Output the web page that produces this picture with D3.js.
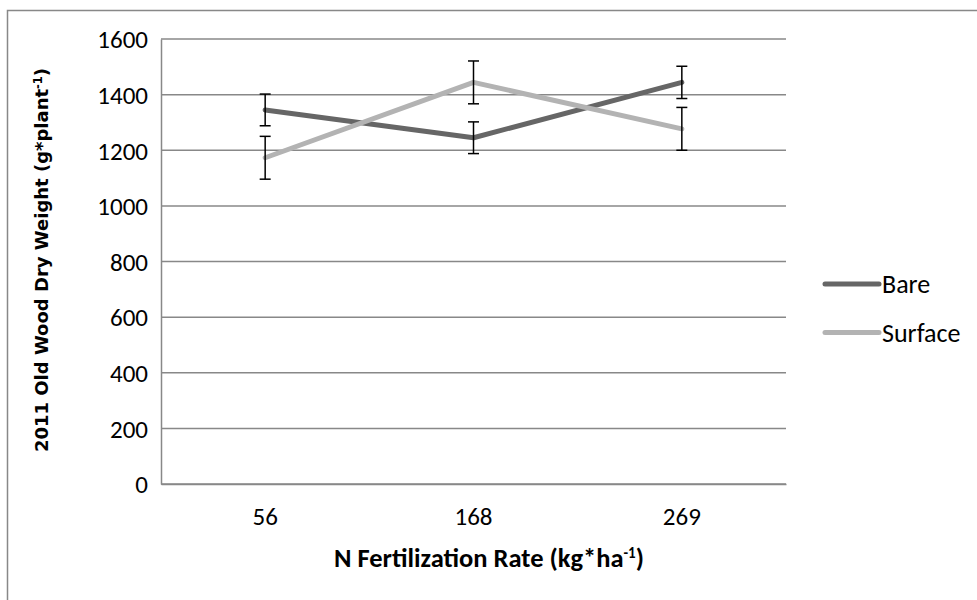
<!DOCTYPE html>
<html>
<head>
<meta charset="utf-8">
<script src="https://cdn.jsdelivr.net/npm/d3@7"></script>
<style>
  body { margin: 0; background: #fff; }
  text { font-family: Carlito, "Liberation Sans Narrow", "Open Sans", sans-serif; fill: #000; }
</style>
</head>
<body>
<div id="chart"></div>
<script>
// data
const rates = ["56", "168", "269"];
const seriesNames = ["Bare", "Surface"];
const bareValues = [1345, 1245, 1444];
const bareErrors = [57, 57, 58];
const surfaceValues = [1173, 1444, 1277];
const surfaceErrors = [77, 77, 77];
const yTicks = [0, 200, 400, 600, 800, 1000, 1200, 1400, 1600];
const colors = ["#666666", "#b3b3b3"];

const width = 977, height = 600;
const margin = {left: 161, right: 191, top: 39, bottom: 116};

const svg = d3.select('#chart')
    .append('svg')
    .attr('width', width)
    .attr('height', height);

// outer chart frame (only left and top edges show)
svg.append('rect')
    .attr('x', 7.5)
    .attr('y', 10.5)
    .attr('width', width + 20)
    .attr('height', height + 20)
    .attr('fill', 'none')
    .attr('stroke', '#888')
    .attr('stroke-width', 1.5);

const x = d3.scaleBand()
    .domain(rates)
    .range([margin.left, width - margin.right]);

const y = d3.scaleLinear()
    .domain([0, 1600])
    .range([height - margin.bottom, margin.top]);

// grid lines
svg.append('g')
    .selectAll('line')
    .data(yTicks)
    .enter()
    .append('line')
    .attr('x1', margin.left)
    .attr('x2', width - margin.right)
    .attr('y1', d => y(d))
    .attr('y2', d => y(d))
    .attr('stroke', '#888')
    .attr('stroke-width', 1.5);

// y axis
const yAxis = svg.append('g')
    .attr('transform', `translate(${margin.left},0)`)
    .call(d3.axisLeft(y).tickValues(yTicks).tickFormat(d3.format('d')).tickSize(0).tickPadding(13));
yAxis.select('.domain').attr('stroke', '#888').attr('stroke-width', 1.5);
yAxis.selectAll('text').style('font-size', '25px').attr('dy', '0.35em');

// x axis
const xAxis = svg.append('g')
    .attr('transform', `translate(0,${y(0)})`)
    .call(d3.axisBottom(x).tickSize(0).tickPadding(23));
xAxis.select('.domain').attr('stroke', '#888').attr('stroke-width', 1.5);
xAxis.selectAll('text').style('font-size', '25px');

// axis titles
const xt = svg.append('text')
    .attr('x', 489)
    .attr('y', 567)
    .attr('text-anchor', 'middle')
    .style('font-size', '26.5px')
    .style('font-weight', 'bold');
xt.append('tspan').text('N Fertilization Rate (kg*ha');
xt.append('tspan').text('-1').attr('dy', -9).style('font-size', '15px');
xt.append('tspan').text(')').attr('dy', 9);

const yt = svg.append('text')
    .attr('transform', 'translate(48,260) rotate(-90)')
    .attr('text-anchor', 'middle')
    .style('font-family', '"DejaVu Sans", Verdana, sans-serif')
    .style('font-size', '18px')
    .style('font-weight', 'bold');
yt.append('tspan').text('2011 Old Wood Dry Weight (g*plant');
yt.append('tspan').text('-1').attr('dy', -6).style('font-size', '11.5px');
yt.append('tspan').text(')').attr('dy', 6);

// series
const series = [
    {name: seriesNames[0], values: bareValues, errors: bareErrors, color: colors[0]},
    {name: seriesNames[1], values: surfaceValues, errors: surfaceErrors, color: colors[1]}
];

const cx = d => x(d) + x.bandwidth() / 2;
const line = d3.line()
    .x((d, i) => cx(rates[i]))
    .y(d => y(d));

series.forEach(s => {
    svg.append('path')
        .datum(s.values)
        .attr('d', line)
        .attr('fill', 'none')
        .attr('stroke', s.color)
        .attr('stroke-width', 5)
        .attr('stroke-linejoin', 'round')
        .attr('stroke-linecap', 'round');
});

// error bars on top
series.forEach(s => {
    const g = svg.append('g');
    s.values.forEach((v, i) => {
        const px = cx(rates[i]);
        const top = y(v + s.errors[i]);
        const bot = y(v - s.errors[i]);
        g.append('line').attr('x1', px).attr('x2', px).attr('y1', top).attr('y2', bot);
        g.append('line').attr('x1', px - 5.5).attr('x2', px + 5.5).attr('y1', top).attr('y2', top);
        g.append('line').attr('x1', px - 5.5).attr('x2', px + 5.5).attr('y1', bot).attr('y2', bot);
    });
    g.selectAll('line').attr('stroke', '#000').attr('stroke-width', 1.5);
});

// legend
const legend = svg.append('g');
series.forEach((s, i) => {
    const ly = 284 + i * 48.5;
    legend.append('line')
        .attr('x1', 825).attr('x2', 879)
        .attr('y1', ly).attr('y2', ly)
        .attr('stroke', s.color)
        .attr('stroke-width', 5)
        .attr('stroke-linecap', 'round');
    legend.append('text')
        .attr('x', 882)
        .attr('y', ly)
        .attr('dy', '0.35em')
        .style('font-size', '26px')
        .text(s.name);
});
</script>
</body>
</html>
